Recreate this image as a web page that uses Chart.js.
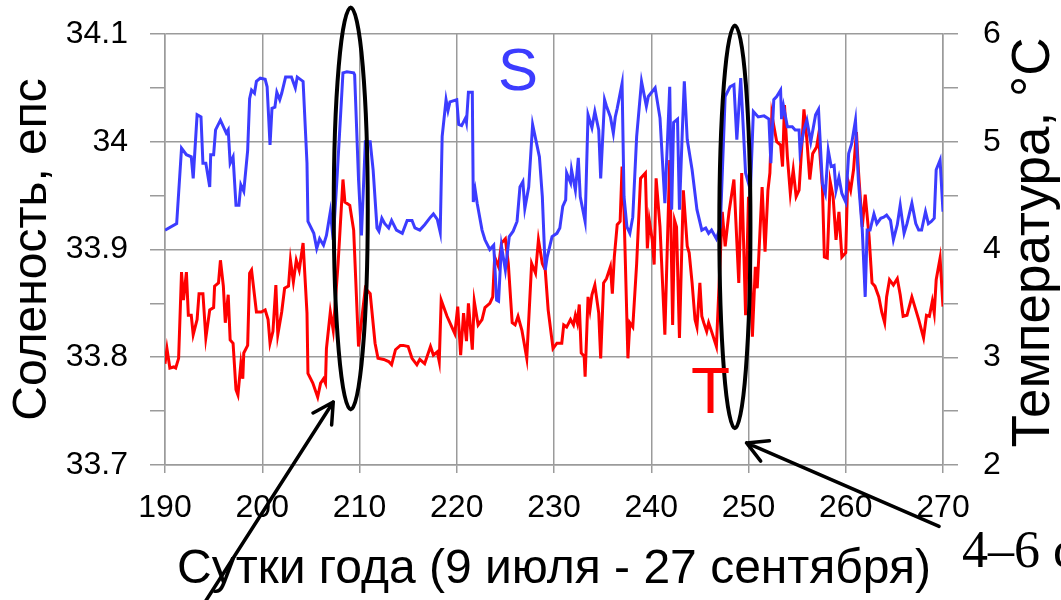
<!DOCTYPE html>
<html lang="ru">
<head>
<meta charset="utf-8">
<title>Соленость и температура</title>
<script src="https://cdn.jsdelivr.net/npm/chart.js@4.4.1/dist/chart.umd.min.js"></script>
<style>
  html, body { margin: 0; padding: 0; background: #fff; }
  .chart-box { position: relative; width: 1061px; height: 600px; }
</style>
</head>
<body>
<div class="chart-box"><canvas id="tsChart"></canvas></div>
<script>
// salinity (left axis), day of year
const salDay = [
  190.0, 191.2, 191.7, 192.2, 192.7, 192.9, 193.3, 193.7, 193.9, 194.2, 194.6, 194.7, 195.0, 195.2, 195.7,
  196.0, 196.3, 196.5, 196.7, 197.0, 197.3, 197.6, 197.8, 198.1, 198.5, 198.7, 198.9, 199.2, 199.4, 199.8,
  200.3, 200.5, 200.8, 201.0, 201.3, 201.5, 201.8, 202.0, 202.4, 203.0, 203.4, 203.6, 204.2, 204.6, 204.7,
  205.3, 205.6, 205.9, 206.3, 206.6, 207.0, 207.3, 207.7, 208.3, 208.7, 209.4, 209.5, 209.9, 210.2, 210.6,
  211.1, 211.4, 211.8, 212.0, 212.3, 212.6, 213.0, 213.3, 213.8, 214.4, 214.9, 215.4, 215.7, 216.2, 216.7,
  217.3, 217.6, 218.0, 218.3, 218.5, 218.9, 219.1, 219.3, 220.0, 220.2, 220.5, 220.9, 221.0, 221.2, 221.6,
  221.7, 221.9, 222.1, 222.6, 222.9, 223.4, 223.8, 224.1, 224.3, 224.5, 224.6, 225.0, 225.4, 225.8, 226.2,
  226.5, 226.8, 227.0, 227.4, 227.8, 228.5, 228.8, 229.1, 229.3, 229.8, 230.3, 230.6, 230.9, 231.2, 231.3,
  231.7, 231.8, 232.2, 232.5, 232.7, 233.2, 233.5, 233.9, 234.2, 234.6, 234.8, 235.2, 235.4, 235.8, 236.1,
  236.3, 236.5, 237.0, 237.2, 237.5, 237.8, 238.1, 238.5, 239.0, 239.5, 239.7, 240.4, 240.9, 241.4, 241.9,
  242.1, 242.3, 242.7, 242.9, 243.2, 243.4, 243.7, 244.2, 244.7, 245.2, 245.6, 245.9, 246.2, 246.7, 247.1,
  247.6, 248.1, 248.5, 248.8, 249.2, 249.7, 250.2, 250.5, 251.0, 251.6, 252.1, 252.3, 252.6, 252.9, 253.3,
  253.4, 253.6, 254.0, 254.5, 254.8, 255.2, 255.3, 255.7, 256.0, 256.4, 256.9, 257.2, 257.6, 257.9, 258.2,
  258.5, 258.8, 259.0, 259.3, 259.6, 260.0, 260.3, 260.6, 261.0, 261.3, 261.7, 262.0, 262.2, 262.5, 262.9,
  263.2, 263.6, 263.9, 264.2, 264.6, 264.9, 265.3, 265.6, 266.0, 266.3, 266.8, 267.2, 267.5, 267.8, 268.2,
  268.5, 268.8, 269.1, 269.3, 269.7, 270.0
];
const salinity = [
  33.918, 33.924, 33.994, 33.988, 33.986, 33.966, 34.025, 34.023, 33.980, 33.980, 33.958, 33.988, 33.988, 34.011, 34.020,
  34.014, 34.008, 34.011, 33.980, 33.986, 33.941, 33.941, 33.960, 33.954, 33.992, 34.040, 34.048, 34.045, 34.056, 34.059,
  34.058, 34.051, 33.997, 34.031, 34.032, 34.046, 34.039, 34.045, 34.060, 34.060, 34.050, 34.060, 34.056, 33.980, 33.926,
  33.915, 33.901, 33.910, 33.904, 33.913, 33.935, 33.909, 33.968, 34.064, 34.065, 34.064, 34.062, 33.965, 33.913, 34.000,
  34.000, 33.974, 33.920, 33.917, 33.929, 33.924, 33.920, 33.927, 33.918, 33.915, 33.927, 33.927, 33.920, 33.918, 33.923,
  33.930, 33.933, 33.928, 33.916, 34.005, 34.039, 34.029, 34.037, 34.039, 34.016, 34.015, 34.022, 34.018, 34.046, 34.046,
  33.944, 33.955, 33.943, 33.918, 33.909, 33.900, 33.904, 33.853, 33.852, 33.887, 33.903, 33.881, 33.912, 33.917, 33.926,
  33.958, 33.963, 33.938, 33.958, 34.016, 33.986, 33.949, 33.881, 33.893, 33.912, 33.915, 33.920, 33.940, 33.946, 33.971,
  33.962, 33.974, 33.955, 33.985, 33.949, 33.926, 34.025, 34.013, 34.028, 34.011, 33.966, 34.039, 34.033, 34.023, 34.008,
  34.023, 34.031, 34.054, 33.949, 33.921, 33.915, 33.930, 34.005, 34.056, 34.033, 34.042, 34.050, 34.022, 33.943, 34.051,
  33.937, 34.018, 34.021, 33.937, 34.011, 34.056, 34.002, 33.974, 33.937, 33.918, 33.920, 33.915, 33.918, 33.910, 33.921,
  34.042, 34.051, 34.053, 34.002, 34.059, 33.971, 33.955, 34.028, 34.023, 34.024, 34.021, 33.980, 34.039, 34.042, 34.048,
  34.021, 34.033, 34.014, 34.014, 34.011, 34.011, 33.991, 34.011, 34.020, 34.000, 34.025, 34.030, 33.961, 33.952, 33.992,
  33.977, 33.978, 33.955, 33.967, 33.952, 33.944, 33.989, 33.998, 34.020, 33.964, 33.918, 33.856, 33.918, 33.918, 33.933,
  33.924, 33.929, 33.930, 33.932, 33.927, 33.909, 33.923, 33.941, 33.915, 33.924, 33.943, 33.924, 33.918, 33.918, 33.935,
  33.924, 33.926, 33.929, 33.974, 33.983, 33.935
];

// temperature (right axis), day of year
const tempDay = [
  190.0, 190.2, 190.5, 190.9, 191.1, 191.4, 191.7, 191.9, 192.2, 192.4, 192.7, 192.9, 193.3, 193.5, 193.9,
  194.2, 194.6, 195.0, 195.1, 195.5, 195.7, 196.0, 196.2, 196.5, 196.7, 197.0, 197.3, 197.5, 197.8, 198.0,
  198.1, 198.5, 198.7, 198.9, 199.4, 199.9, 200.3, 200.6, 200.8, 201.1, 201.4, 201.6, 202.0, 202.3, 202.7,
  202.9, 203.2, 203.5, 203.8, 204.2, 204.6, 204.7, 205.2, 205.7, 206.0, 206.3, 206.5, 206.6, 207.0, 207.3,
  207.8, 208.3, 208.5, 209.0, 209.4, 209.9, 210.6, 211.1, 211.6, 211.9, 212.5, 213.0, 213.3, 213.7, 214.2,
  214.5, 215.0, 215.4, 215.9, 216.2, 216.7, 217.3, 217.6, 218.0, 218.2, 218.4, 219.0, 219.5, 219.8, 220.1,
  220.4, 220.7, 221.0, 221.2, 221.6, 221.8, 222.2, 222.6, 222.9, 223.4, 223.7, 223.9, 224.3, 224.6, 225.0,
  225.3, 225.7, 226.0, 226.3, 226.7, 227.2, 227.7, 228.1, 228.4, 228.8, 229.1, 229.4, 229.9, 230.3, 230.8,
  231.0, 231.3, 231.7, 232.0, 232.2, 232.4, 232.6, 232.8, 233.1, 233.2, 233.5, 233.7, 233.9, 234.2, 234.6,
  234.8, 235.1, 235.4, 235.8, 236.0, 236.2, 236.5, 236.8, 237.0, 237.2, 237.6, 237.8, 238.1, 238.5, 238.9,
  239.4, 239.6, 239.8, 240.1, 240.3, 240.5, 240.9, 241.4, 241.9, 242.2, 242.4, 242.6, 242.9, 243.3, 243.7,
  243.9, 244.2, 244.5, 244.7, 245.0, 245.2, 245.4, 245.7, 245.9, 246.2, 246.7, 247.3, 247.6, 248.0, 248.5,
  249.0, 249.3, 249.7, 250.0, 250.4, 250.7, 250.9, 251.4, 251.7, 252.0, 252.2, 252.4, 252.9, 253.3, 253.5,
  253.7, 254.0, 254.3, 254.6, 254.9, 255.2, 255.5, 255.7, 256.0, 256.3, 256.6, 257.0, 257.2, 257.6, 257.8,
  258.1, 258.4, 258.7, 259.0, 259.3, 259.6, 260.0, 260.2, 260.5, 260.8, 261.1, 261.3, 261.7, 262.0, 262.4,
  262.7, 263.0, 263.4, 263.7, 264.0, 264.2, 264.5, 264.9, 265.3, 265.6, 265.9, 266.3, 266.8, 267.2, 267.5,
  268.0, 268.3, 268.6, 268.9, 269.1, 269.3, 269.7, 270.0
];
const temperature = [
  2.94, 3.08, 2.90, 2.91, 2.90, 2.99, 3.79, 3.53, 3.79, 3.39, 3.39, 3.21, 3.35, 3.59, 3.59,
  3.18, 3.44, 3.46, 3.66, 3.69, 3.90, 3.66, 3.32, 3.58, 3.16, 3.13, 2.70, 2.65, 2.94, 2.80,
  3.04, 3.11, 3.78, 3.81, 3.42, 3.42, 3.44, 3.35, 3.13, 3.24, 3.67, 3.21, 3.42, 3.64, 3.66,
  3.90, 3.70, 3.90, 3.81, 4.06, 3.41, 2.85, 2.76, 2.63, 2.76, 2.80, 2.76, 3.08, 3.42, 3.25,
  3.87, 4.65, 4.44, 4.41, 4.18, 3.10, 3.64, 3.59, 3.13, 2.99, 2.98, 2.96, 2.93, 3.07, 3.11,
  3.11, 3.10, 2.99, 2.93, 2.98, 2.94, 3.10, 3.02, 3.05, 2.96, 3.53, 3.38, 3.28, 3.22, 3.47,
  3.02, 3.41, 3.15, 3.50, 3.07, 3.52, 3.30, 3.35, 3.46, 3.50, 3.56, 3.93, 3.84, 4.06, 4.10,
  3.87, 3.32, 3.30, 3.38, 3.25, 2.99, 3.87, 3.78, 4.09, 3.87, 3.81, 3.44, 3.08, 3.13, 3.13,
  3.30, 3.28, 3.35, 3.30, 3.39, 3.32, 3.49, 3.04, 3.01, 2.82, 3.56, 3.44, 3.58, 3.67, 3.41,
  2.99, 3.69, 3.73, 3.84, 3.59, 3.93, 4.23, 4.26, 4.77, 4.35, 2.99, 3.32, 3.28, 3.87, 4.66,
  4.71, 4.01, 4.27, 4.09, 3.86, 4.66, 4.21, 3.21, 4.83, 3.30, 4.27, 4.21, 3.18, 4.55, 4.03,
  3.97, 3.69, 3.35, 3.28, 3.69, 3.38, 3.32, 3.24, 3.32, 3.24, 3.10, 4.35, 4.03, 4.35, 4.65,
  3.69, 4.71, 3.39, 4.49, 3.19, 3.84, 3.64, 4.58, 3.98, 4.55, 4.71, 5.25, 5.00, 4.97, 4.77,
  5.34, 4.86, 4.52, 4.74, 4.49, 4.55, 4.99, 5.30, 5.02, 4.65, 4.89, 4.95, 5.06, 4.58, 3.93,
  3.92, 4.63, 4.49, 4.09, 4.35, 3.93, 3.97, 4.65, 4.55, 4.74, 5.09, 4.74, 4.21, 4.51, 4.12,
  3.69, 3.66, 3.56, 3.42, 3.32, 3.56, 3.72, 3.67, 3.73, 3.58, 3.38, 3.39, 3.56, 3.44, 3.35,
  3.18, 3.39, 3.38, 3.52, 3.41, 3.72, 3.92, 3.47
];

const gridGrey = 'rgb(155, 155, 155)';
const blueLine = 'rgb(60, 60, 255)';
const redLine = 'rgb(255, 0, 0)';
const tickFont = { family: 'Liberation Sans, Arial, sans-serif', size: 32 };

const isTenth = v => Math.round(v * 100) % 10 === 0;
const isWhole = v => Math.round(v * 10) % 10 === 0;

// fixed axis boxes, no extra edge padding for the labels
const fixWidth = w => scale => {
  scale.width = w;
  scale.paddingTop = 0;
  scale.paddingBottom = 0;
};

// marks drawn over the chart: ellipses, arrows, letters (in data units)
const ellipses = [
  { day: 209.1, sal: 33.938, halfDays: 1.75, halfSal: 0.1865 },
  { day: 248.6, sal: 33.921, halfDays: 1.6, halfSal: 0.187 }
];
const arrows = [
  { fromDay: 194.2, fromSal: 33.574, toDay: 207.3, toSal: 33.7585 },
  { fromDay: 269.6, fromSal: 33.643, toDay: 249.8, toSal: 33.7205 }
];

const notesPlugin = {
  id: 'notes',
  afterDraw(chart) {
    const { ctx, chartArea } = chart;
    const px = d => chart.scales.x.getPixelForValue(d);
    const py = v => chart.scales.yS.getPixelForValue(v);
    ctx.save();
    ctx.strokeStyle = '#000';
    ctx.lineWidth = 4;
    ellipses.forEach(e => {
      const cx = px(e.day), cy = py(e.sal);
      const rx = px(e.day + e.halfDays) - cx;
      const ry = py(e.sal - e.halfSal) - cy;
      ctx.beginPath();
      ctx.ellipse(cx, cy, rx, ry, 0, 0, Math.PI * 2);
      ctx.stroke();
    });

    ctx.lineWidth = 3.5;
    ctx.lineCap = 'round';
    arrows.forEach(a => {
      const x0 = px(a.fromDay), y0 = py(a.fromSal);
      const x1 = px(a.toDay), y1 = py(a.toSal);
      const ang = Math.atan2(y0 - y1, x0 - x1);
      ctx.beginPath();
      ctx.moveTo(x0, y0);
      ctx.lineTo(x1, y1);
      [-0.5, 0.5].forEach(da => {
        ctx.moveTo(x1, y1);
        ctx.lineTo(x1 + 23 * Math.cos(ang + da), y1 + 23 * Math.sin(ang + da));
      });
      ctx.stroke();
    });

    ctx.textAlign = 'center';
    ctx.textBaseline = 'middle';
    ctx.font = '60px Liberation Sans, Arial, sans-serif';
    ctx.fillStyle = blueLine;
    ctx.fillText('S', px(226.3), py(34.063));
    ctx.font = '64px Liberation Sans, Arial, sans-serif';
    ctx.fillStyle = redLine;
    ctx.fillText('T', px(246.1), py(33.765));

    ctx.textAlign = 'left';
    ctx.textBaseline = 'alphabetic';
    ctx.fillStyle = '#000';
    ctx.font = '52px Liberation Serif, Times New Roman, serif';
    ctx.fillText('4–6 суток', 962, 567);

    // right axis title, reads bottom to top
    ctx.save();
    ctx.translate(chart.width - 12, (chartArea.top + chartArea.bottom) / 2 - 7);
    ctx.rotate(-Math.PI / 2);
    ctx.textAlign = 'center';
    ctx.font = '53px Liberation Sans, Arial, sans-serif';
    ctx.fillText('Температура, °C', 0, 0);
    ctx.restore();
    ctx.restore();
  }
};

const ctx = document.getElementById('tsChart');
new Chart(ctx, {
  type: 'line',
  data: {
    datasets: [
      {
        label: 'S',
        data: salDay.map((d, i) => ({ x: d, y: salinity[i] })),
        yAxisID: 'yS',
        borderColor: blueLine,
        borderWidth: 3,
        pointRadius: 0,
        tension: 0,
        fill: false
      },
      {
        label: 'T',
        data: tempDay.map((d, i) => ({ x: d, y: temperature[i] })),
        yAxisID: 'yT',
        borderColor: redLine,
        borderWidth: 3,
        pointRadius: 0,
        tension: 0,
        fill: false
      }
    ]
  },
  options: {
    responsive: true,
    maintainAspectRatio: false,
    animation: false,
    devicePixelRatio: 1,
    layout: { autoPadding: false, padding: { top: 34, left: 0, right: 0, bottom: 0 } },
    plugins: {
      legend: { display: false },
      tooltip: { enabled: false }
    },
    scales: {
      x: {
        type: 'linear',
        min: 190,
        max: 270,
        afterFit: scale => {
          scale.height = 135;
          scale.paddingLeft = 0;
          scale.paddingRight = 0;
        },
        border: { display: true, color: gridGrey, width: 1.5 },
        grid: { color: gridGrey, lineWidth: 1.5, tickLength: 8, tickColor: gridGrey },
        ticks: {
          stepSize: 10,
          autoSkip: false,
          maxRotation: 0,
          padding: 16,
          color: '#000',
          font: tickFont
        },
        title: {
          display: true,
          text: 'Сутки года (9 июля - 27 сентября)',
          color: '#000',
          font: { family: 'Liberation Sans, Arial, sans-serif', size: 48, lineHeight: 1 },
          padding: { top: 0, bottom: 6 }
        }
      },
      yS: {
        type: 'linear',
        position: 'left',
        min: 33.7,
        max: 34.1,
        afterFit: fixWidth(165),
        border: { display: true, color: gridGrey, width: 1.5 },
        grid: {
          color: c => (c.tick && isTenth(c.tick.value) ? gridGrey : 'rgba(0,0,0,0)'),
          tickColor: gridGrey,
          lineWidth: 1.5,
          tickLength: 15
        },
        ticks: {
          stepSize: 0.05,
          autoSkip: false,
          padding: 22,
          color: '#000',
          font: tickFont,
          callback: v => (isTenth(v) ? String(Math.round(v * 10) / 10) : '')
        },
        title: {
          display: true,
          text: 'Соленость, епс',
          color: '#000',
          font: { family: 'Liberation Sans, Arial, sans-serif', size: 48, lineHeight: 1 },
          padding: { top: 9, bottom: 0 }
        }
      },
      yT: {
        type: 'linear',
        position: 'right',
        min: 2,
        max: 6,
        afterFit: fixWidth(118),
        border: { display: true, color: gridGrey, width: 1.5 },
        grid: { drawOnChartArea: false, tickColor: gridGrey, lineWidth: 1.5, tickLength: 15 },
        ticks: {
          stepSize: 0.5,
          autoSkip: false,
          padding: 25,
          color: '#000',
          font: tickFont,
          callback: v => (isWhole(v) ? String(Math.round(v)) : '')
        }
      }
    }
  },
  plugins: [notesPlugin]
});
</script>
</body>
</html>
